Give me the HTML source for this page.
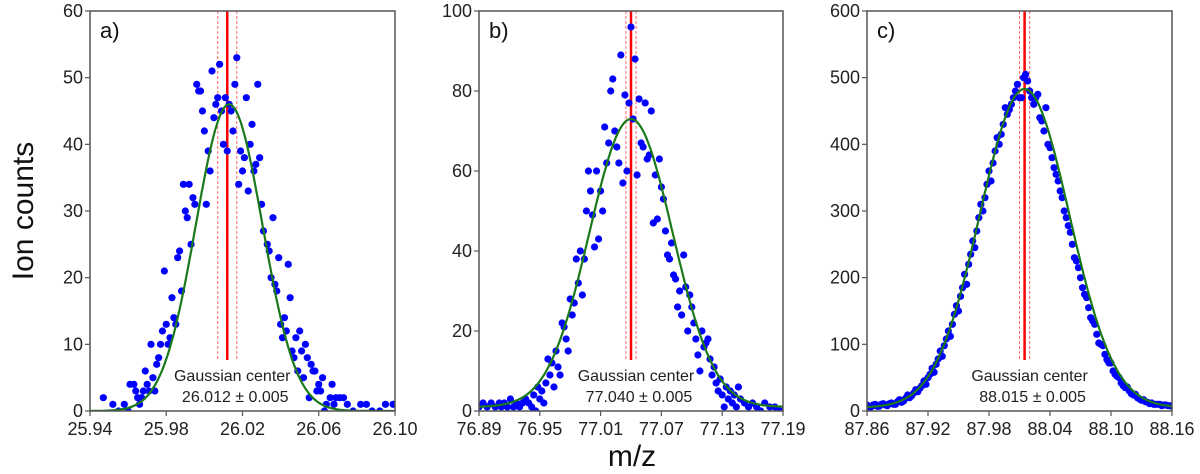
<!DOCTYPE html>
<html><head><meta charset="utf-8"><style>
html,body{margin:0;padding:0;background:#fff;}
svg{display:block;font-family:"Liberation Sans","DejaVu Sans",sans-serif;}
</style></head><body>
<svg id="chart" width="1200" height="474" viewBox="0 0 1200 474"></svg>
<script>
// ---- data ----
const aPoints=[[25.947,2],[25.952,1],[25.955,0],[25.958,1],[25.960,0],[25.961,4],[25.963,4],[25.964,3],[25.965,2],[25.966,1],[25.967,2],[25.968,3],[25.969,6],[25.970,4],[25.971,3],[25.972,10],[25.973,5],[25.974,3],[25.975,7],[25.976,8],[25.977,10],[25.978,12],[25.979,21],[25.980,13],[25.981,10],[25.982,11],[25.983,17],[25.984,14],[25.985,13],[25.986,23],[25.987,24],[25.988,18],[25.989,34],[25.990,30],[25.991,29],[25.992,34],[25.993,25],[25.994,32],[25.995,31],[25.996,49],[25.997,48],[25.998,48],[25.999,45],[26.000,42],[26.001,31],[26.002,39],[26.003,36],[26.004,51],[26.005,44],[26.006,46],[26.007,47],[26.008,52],[26.009,45],[26.010,40],[26.011,47],[26.012,39],[26.013,46],[26.014,45],[26.015,42],[26.016,49],[26.017,53],[26.018,34],[26.019,39],[26.020,36],[26.021,38],[26.022,47],[26.023,33],[26.024,40],[26.025,43],[26.026,36],[26.027,37],[26.028,49],[26.029,38],[26.030,31],[26.031,27],[26.033,25],[26.034,24],[26.035,20],[26.036,29],[26.037,19],[26.038,18],[26.039,23],[26.040,13],[26.041,11],[26.042,14],[26.043,12],[26.044,22],[26.045,17],[26.046,9],[26.047,8],[26.048,11],[26.049,6],[26.050,12],[26.051,9],[26.052,5],[26.053,10],[26.054,8],[26.055,2],[26.056,7],[26.057,6],[26.058,6],[26.059,3],[26.060,4],[26.061,3],[26.062,5],[26.063,0],[26.064,1],[26.066,2],[26.067,4],[26.068,1],[26.069,2],[26.071,2],[26.073,2],[26.075,1],[26.078,0],[26.082,1],[26.085,1],[26.088,0],[26.092,0],[26.095,1],[26.099,1]];
const bPoints=[[76.890,1],[76.894,2],[76.898,1],[76.902,2],[76.906,1],[76.910,2],[76.912,1],[76.915,2],[76.918,1],[76.921,3],[76.924,1],[76.927,2],[76.930,1],[76.933,2],[76.936,3],[76.939,2],[76.942,1],[76.944,4],[76.946,0],[76.948,6],[76.950,3],[76.952,5],[76.954,2],[76.956,7],[76.958,13],[76.960,9],[76.962,12],[76.964,6],[76.966,15],[76.968,11],[76.970,9],[76.972,22],[76.974,21],[76.976,18],[76.978,15],[76.980,28],[76.982,24],[76.984,27],[76.986,38],[76.988,32],[76.990,40],[76.992,29],[76.994,38],[76.996,50],[76.998,60],[77.000,55],[77.002,49],[77.004,41],[77.006,60],[77.008,43],[77.010,55],[77.012,50],[77.014,71],[77.016,62],[77.018,67],[77.020,80],[77.022,83],[77.024,70],[77.026,66],[77.028,62],[77.030,89],[77.032,57],[77.034,79],[77.036,60],[77.038,77],[77.040,96],[77.042,73],[77.044,88],[77.046,59],[77.048,78],[77.050,67],[77.052,66],[77.054,77],[77.056,63],[77.058,64],[77.060,75],[77.062,47],[77.064,59],[77.066,48],[77.068,63],[77.070,56],[77.072,53],[77.074,45],[77.076,39],[77.078,38],[77.080,42],[77.082,34],[77.084,33],[77.086,26],[77.088,30],[77.090,24],[77.092,39],[77.094,31],[77.096,20],[77.098,29],[77.100,26],[77.102,22],[77.104,18],[77.106,14],[77.108,10],[77.110,20],[77.112,16],[77.114,17],[77.116,18],[77.118,13],[77.120,9],[77.122,11],[77.124,7],[77.126,5],[77.128,8],[77.130,4],[77.132,1],[77.134,6],[77.136,3],[77.138,5],[77.140,2],[77.142,4],[77.144,1],[77.146,6],[77.148,3],[77.152,2],[77.156,1],[77.160,2],[77.164,1],[77.168,0],[77.172,2],[77.177,1],[77.182,1],[77.187,0]];
const cX1=[87.860,87.864,87.868,87.872,87.876,87.880,87.884,87.888,87.892,87.896,87.900,87.904,87.908,87.912,87.916,87.920,87.924,87.928,87.932,87.936,87.940,87.944,87.948,87.952,87.956,87.960,87.964,87.968,87.972,87.976,87.980,87.984,87.988,87.992,87.996,88.000,88.004,88.008,88.012,88.016,88.020,88.024,88.028,88.032,88.036,88.040,88.044,88.048,88.052,88.056,88.060,88.064,88.068,88.072,88.076,88.080,88.084,88.088,88.092,88.096,88.100,88.104,88.108,88.112,88.116,88.120,88.124,88.128,88.132,88.136,88.140,88.144,88.148,88.152,88.156,88.160];
const cY1=[9,6,10,7,11,8,12,10,17,15,24,23,32,34,45,50,64,70,90,98,120,130,158,172,205,220,255,270,310,320,360,372,410,415,455,452,470,490,470,505,480,460,475,435,455,395,365,345,320,290,268,230,215,185,170,140,130,102,98,77,72,55,50,38,36,26,25,18,17,13,12,10,10,9,8,7];
const cX2=[87.862,87.866,87.870,87.874,87.878,87.882,87.886,87.890,87.894,87.898,87.902,87.906,87.910,87.914,87.918,87.922,87.926,87.930,87.934,87.938,87.942,87.946,87.950,87.954,87.958,87.962,87.966,87.970,87.974,87.978,87.982,87.986,87.990,87.994,87.998,88.002,88.006,88.010,88.014,88.018,88.022,88.026,88.030,88.034,88.038,88.042,88.046,88.050,88.054,88.058,88.062,88.066,88.070,88.074,88.078,88.082,88.086,88.090,88.094,88.098,88.102,88.106,88.110,88.114,88.118,88.122,88.126,88.130,88.134,88.138,88.142,88.146,88.150,88.154,88.158];
const cY2=[6,9,7,10,9,11,10,14,13,19,20,27,29,38,40,55,58,78,82,108,112,145,150,185,190,235,245,290,300,340,345,390,400,430,445,460,480,470,500,495,470,470,440,420,400,380,355,330,300,278,250,225,200,175,155,135,115,100,85,72,60,52,42,35,30,24,20,16,14,11,10,10,8,9,8];
// fit params: [center, amplitude, sigma, baseline]
const aFit=[26.013,46,0.0175,0];
const bFit=[77.040,72,0.041,1];
const cFit=[88.015,478,0.044,5];
const aTicksX=[25.94,25.98,26.02,26.06,26.10], aTicksY=[0,10,20,30,40,50,60];
const bTicksX=[76.89,76.95,77.01,77.07,77.13,77.19], bTicksY=[0,20,40,60,80,100];
const cTicksX=[87.86,87.92,87.98,88.04,88.10,88.16], cTicksY=[0,100,200,300,400,500,600];
const centers=[26.012,77.040,88.015], errs=[0.005,0.005,0.005];
const centerLabels=["26.012 ± 0.005","77.040 ± 0.005","88.015 ± 0.005"];

const NS="http://www.w3.org/2000/svg";
const svg=document.getElementById('chart');
function mk(tag,attrs,parent){const e=document.createElementNS(NS,tag);for(const k in attrs)e.setAttribute(k,attrs[k]);(parent||svg).appendChild(e);return e;}

const cXpts=cX1.map((x,i)=>[x,cY1[i]]).concat(cX2.map((x,i)=>[x,cY2[i]]));
const panels=[
 {id:'a',L:90,R:395,xmin:25.94,xmax:26.10,ymax:60,pts:aPoints,fit:aFit,tx:aTicksX,ty:aTicksY},
 {id:'b',L:479,R:783,xmin:76.89,xmax:77.19,ymax:100,pts:bPoints,fit:bFit,tx:bTicksX,ty:bTicksY},
 {id:'c',L:867,R:1172,xmin:87.86,xmax:88.16,ymax:600,pts:cXpts,fit:cFit,tx:cTicksX,ty:cTicksY}
];
const T=11,B=411;
panels.forEach((p,pi)=>{
 const g=mk('g',{});
 
 
 const sx=v=>p.L+(v-p.xmin)/(p.xmax-p.xmin)*(p.R-p.L);
 const sy=v=>B-v/p.ymax*(B-T);
 const clip=mk('clipPath',{id:'clip'+p.id},g);
 mk('rect',{x:p.L,y:T,width:p.R-p.L,height:B-T},clip);
 const plot=mk('g',{'clip-path':'url(#clip'+p.id+')'},g);
 const c=centers[pi],e=errs[pi];
 [c-e,c+e].forEach(v=>{const l=mk('line',{x1:sx(v),x2:sx(v),y1:T,y2:360,stroke:'#f66',"stroke-width":1,"stroke-dasharray":"3,2"},plot);
  });
 const cl=mk('line',{x1:sx(c),x2:sx(c),y1:T,y2:360,stroke:'#f00',"stroke-width":2.5},plot);
 
 p.pts.forEach(([x,y])=>{const d=mk('circle',{cx:sx(x),cy:sy(y),r:3.6,fill:'#0000ff'},plot);
  });
 let path='';const [mu,A,s,b0]=p.fit;
 for(let i=0;i<=300;i++){const x=p.xmin+(p.xmax-p.xmin)*i/300;const y=b0+A*Math.exp(-(x-mu)*(x-mu)/(2*s*s));path+=(i?'L':'M')+sx(x).toFixed(1)+' '+sy(y).toFixed(1);}
 const fc=mk('path',{d:path,fill:'none',stroke:'#1a7a1a',"stroke-width":2.2},plot);
 
 const fr=mk('rect',{x:p.L,y:T,width:p.R-p.L,height:B-T,fill:'none',stroke:'#555',"stroke-width":1.5},g);
 
 p.tx.forEach(v=>{mk('line',{x1:sx(v),x2:sx(v),y1:B,y2:B+5,stroke:'#555',"stroke-width":1.2},g);
  const t=mk('text',{x:sx(v),y:435,'text-anchor':'middle','font-size':18,fill:'#222'},g);t.textContent=v.toFixed(2);
  });
 p.ty.forEach(v=>{mk('line',{x1:p.L-5,x2:p.L,y1:sy(v),y2:sy(v),stroke:'#555',"stroke-width":1.2},g);
  const t=mk('text',{x:p.L-7,y:sy(v)+6,'text-anchor':'end','font-size':18,fill:'#222'},g);t.textContent=v;
  });
 const pl=mk('text',{x:p.L+10,y:38,'font-size':22,fill:'#111'},g);pl.textContent=p.id+')';
 
 const t1=mk('text',{x:sx(c)+5,y:381,'text-anchor':'middle','font-size':16,fill:'#222'},g);t1.textContent='Gaussian center';
 
 const t2=mk('text',{x:sx(c)+8,y:402,'text-anchor':'middle','font-size':16,fill:'#222'},g);t2.textContent=centerLabels[pi];
 
});
const yl=mk('text',{x:0,y:0,transform:'translate(33,211) rotate(-90)','text-anchor':'middle','font-size':30,fill:'#111'});
yl.textContent='Ion counts';


const xl=mk('text',{x:632,y:466,'text-anchor':'middle','font-size':30,fill:'#111'});
xl.textContent='m/z';


</script>
</body></html>
